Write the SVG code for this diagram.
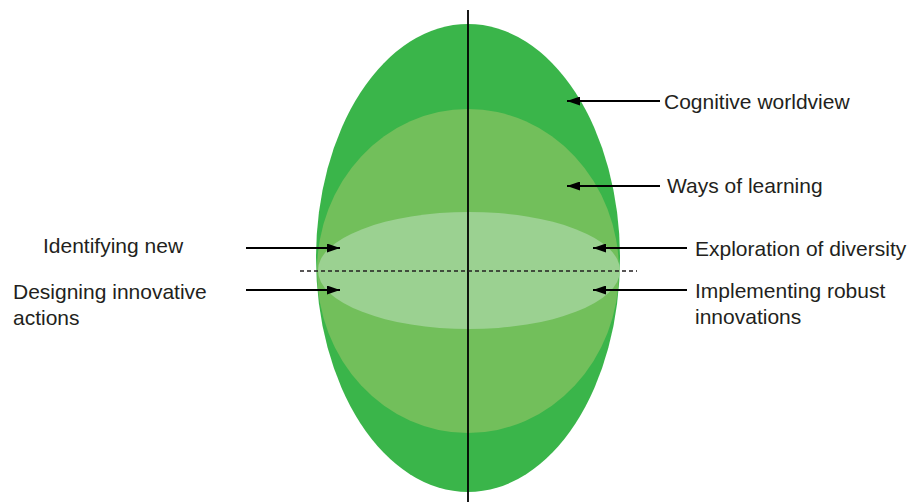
<svg xmlns="http://www.w3.org/2000/svg" width="908" height="502" viewBox="0 0 908 502">
<defs>
<marker id="ah" markerWidth="13" markerHeight="9" refX="13" refY="4.5" orient="auto" markerUnits="userSpaceOnUse">
<path d="M0,0 L13,4.5 L0,9 z" fill="#000"/>
</marker>
<style>
.lbl{font-family:"Liberation Sans",Arial,sans-serif;font-size:21px;fill:#231f20}
.arr{stroke:#000;stroke-width:1.8;fill:none;marker-end:url(#ah)}
</style>
</defs>
<rect width="908" height="502" fill="#fff"/>
<g id="shapes">
<ellipse id="outer" cx="468" cy="258" rx="152" ry="234" fill="#3ab54a"/>
<ellipse id="middle" cx="468" cy="271" rx="151" ry="162" fill="#72bf5b"/>
<ellipse id="inner" cx="469" cy="270.5" rx="151" ry="58.5" fill="#9bd191"/>
</g>
<g id="axes">
<line x1="468" y1="10" x2="468" y2="502" stroke="#000" stroke-width="1.8"/>
<line x1="300" y1="271" x2="637" y2="271" stroke="#231f20" stroke-width="1.5" stroke-dasharray="4,3"/>
</g>
<g id="connectors">
<line class="arr" x1="660" y1="101" x2="567" y2="101"/>
<line class="arr" x1="660" y1="186" x2="567" y2="186"/>
<line class="arr" x1="687" y1="248" x2="593" y2="248"/>
<line class="arr" x1="687" y1="290" x2="593" y2="290"/>
<line class="arr" x1="246" y1="248" x2="340" y2="248"/>
<line class="arr" x1="246" y1="290" x2="340" y2="290"/>
</g>
<g id="label-cognitive"><text class="lbl" x="664" y="109">Cognitive worldview</text></g>
<g id="label-ways"><text class="lbl" x="667" y="193">Ways of learning</text></g>
<g id="label-exploration"><text class="lbl" x="695" y="256">Exploration of diversity</text></g>
<g id="label-implementing"><text class="lbl" x="695" y="298">Implementing robust</text><text class="lbl" x="695" y="324">innovations</text></g>
<g id="label-identifying"><text class="lbl" x="43" y="253">Identifying new</text></g>
<g id="label-designing"><text class="lbl" x="13" y="299">Designing innovative</text><text class="lbl" x="13" y="325">actions</text></g>
</svg>
